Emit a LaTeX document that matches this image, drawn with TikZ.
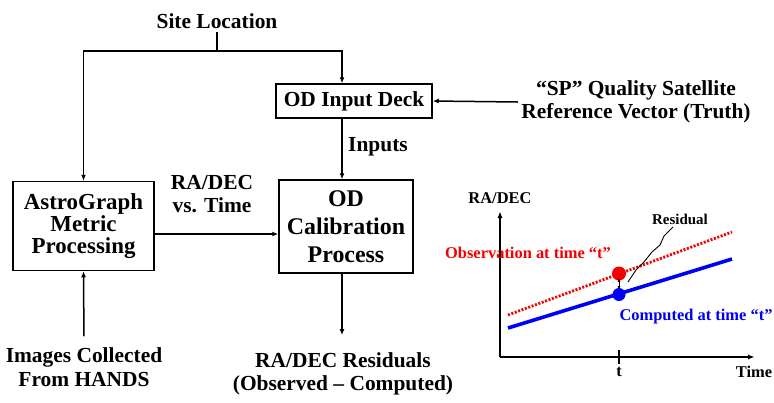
\documentclass[tikz,border=0pt]{standalone}
\usepackage{fontspec}
\setmainfont{Liberation Serif}
\usetikzlibrary{positioning, calc, arrows.meta}
\definecolor{obsRed}{RGB}{245, 0, 0}
\definecolor{compBlue}{RGB}{0, 0, 245}

\begin{document}
\begin{tikzpicture}[x=1bp, y=-1bp,
          box/.style={draw, line width=1.5bp, inner sep=0pt, align=center,
                      font=\fontsize{23}{22}\selectfont\bfseries},
          arr/.style={-{Latex[length=6bp, width=5bp]}, line width=1.5bp},
          lbl/.style={align=center, font=\fontsize{21.5}{23.5}\selectfont\bfseries},
          glbl/.style={font=\fontsize{16.5}{17}\selectfont\bfseries},
          axis/.style={-{Latex[length=7bp, width=5bp]}, line width=1.5bp}
        ]
        \useasboundingbox (0,0) rectangle (774,402);
        \coordinate (spine) at (342,150);

        % flow chart
        \node[lbl] (site) at (217,21) {Site Location};
        \coordinate (split) at (217,51);
        \node[box, minimum width=156bp, minimum height=34bp,
              font=\fontsize{21.5}{21}\selectfont\bfseries] (deck) at (354,101) {OD Input Deck};
        \node[lbl] (sp) at (636,102) {``SP'' Quality Satellite\\Reference Vector (Truth)};
        \node[box, minimum width=141bp, minimum height=89bp] (astro) at (83.5,226)
              {AstroGraph\\Metric\\Processing};
        \node[box, minimum width=134bp, minimum height=93bp,
              font=\fontsize{24}{28}\selectfont\bfseries] (cal) at (346,226.5)
              {OD\\Calibration\\Process};
        \node[lbl] (radec) at (212,194) {RA/DEC\\vs. Time};
        \node[lbl] (inputs) at (378,147) {Inputs};
        \node[lbl] (images) at (84,367) {Images Collected\\From HANDS};
        \node[lbl] (resid) at (343,374) {RA/DEC Residuals\\(Observed -- Computed)};

        \draw[line width=1.5bp] (site) -- (split);
        \draw[arr] (split) -| (astro.north);
        \draw[arr] (split) -| (deck.north -| spine);
        \draw[arr] (sp.west) -- (deck.east);
        \draw[arr] (deck.south -| spine) -- (cal.north -| spine);
        \draw[arr] ([yshift=-8bp]astro.east) -- ([yshift=-8bp]astro.east -| cal.west);
        \draw[arr, shorten >=14bp] (cal.south -| spine) -- (resid.north -| spine);
        \draw[arr, shorten <=8bp] (images.north) -- (astro.south);

        % residual sketch
        \coordinate (o) at (500,357);
        \node[glbl] (gy) at (500,198) {RA/DEC};
        \node[glbl] (gx) at (754,372) {Time};
        \draw[axis] (o) -- (500,211);
        \draw[axis] (o) -- (755,357);
        \draw[line width=1.5bp] (619,350) -- (619,364) node[glbl, below=-1bp] (tlbl) {t};

        \draw[obsRed, line width=2.8bp, dash pattern=on 2bp off 1.6bp] (508,315) -- (732,232);
        \draw[compBlue, line width=3.6bp] (508,328) -- (732,259);
        \node[circle, fill=obsRed, minimum size=14bp, inner sep=0pt] (obsdot) at (619,273.5) {};
        \node[circle, fill=compBlue, minimum size=13bp, inner sep=0pt] (compdot) at (619,294.5) {};
        \draw[{Latex[length=4bp]}-{Latex[length=4bp]}, line width=1bp] (619,278) -- (619,290);

        \node[glbl, text=obsRed] (obslbl) at (528,253) {Observation at time ``t''};
        \node[glbl, text=compBlue, anchor=west] (complbl) at (616,317) {Computed at time ``t''};
        \node[glbl, font=\fontsize{15}{16}\selectfont\bfseries] (reslbl) at (680,219) {Residual};
        \draw[line width=0.9bp] (673,227) -- (664,236) -- (660,245) -- (652,252)
              -- (644,262) -- (636,270) -- (628,282);
      \end{tikzpicture}
\end{document}
